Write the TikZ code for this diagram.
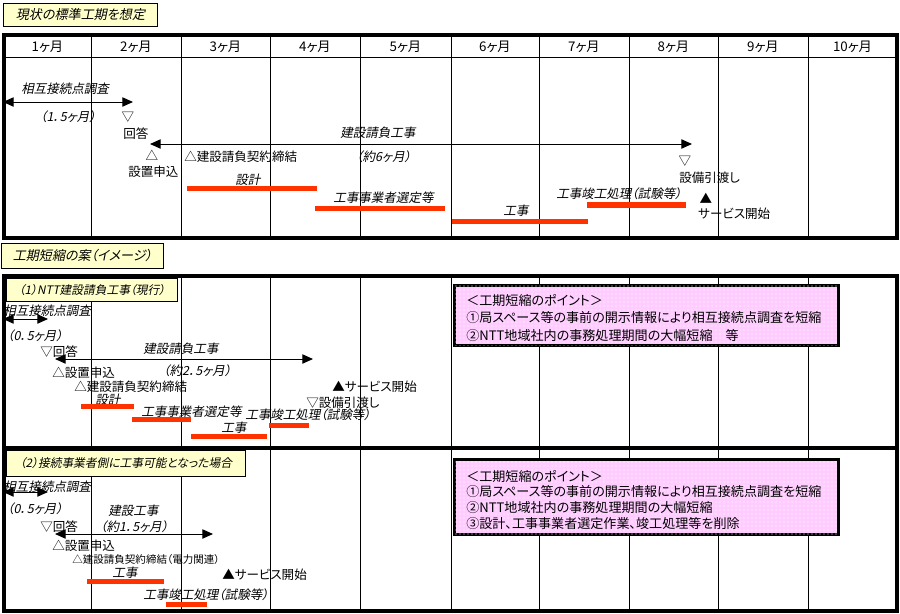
\documentclass[tikz,border=0pt]{standalone}
\usepackage{fontspec}
\setmainfont{Noto Sans CJK JP}[RawFeature=+palt]
\newfontfamily\jpslant{Noto Sans CJK JP}[RawFeature=+palt,FakeSlant=0.2]
\usetikzlibrary{arrows.meta,patterns}
\definecolor{hdryellow}{HTML}{FFFFCC}
\definecolor{barred}{HTML}{FF3300}
\definecolor{ptpink}{HTML}{FFCCFF}

\begin{document}
\begin{tikzpicture}[
  x=0.75pt, y=-0.75pt,
  font=\fontsize{9.4}{11}\selectfont,
  hdrbox/.style={draw=black, line width=0.75pt, fill=hdryellow, inner sep=0pt, anchor=north west,
                 font=\fontsize{9.8}{11}\selectfont\jpslant},
  subbox/.style={hdrbox, font=\fontsize{8.8}{10}\selectfont\jpslant},
  montxt/.style={font=\fontsize{10}{11}\selectfont},
  txt/.style={anchor=west, inner sep=0pt},
  itxt/.style={txt, font=\fontsize{9.4}{11}\selectfont\jpslant},
  smalltxt/.style={txt, font=\fontsize{7.9}{9}\selectfont},
  pttxt/.style={txt, font=\fontsize{9.8}{11}\selectfont},
  sym/.style={inner sep=0pt},
  panelframe/.style={line width=2.4pt},
  gridline/.style={line width=0.75pt},
  spanarr/.style={{Triangle[length=8pt,width=7pt]}-{Triangle[length=8pt,width=7pt]}, line width=0.75pt},
  ptbox/.style={draw=black, line width=1.9pt, fill=ptpink, anchor=north west, inner sep=0pt,
                postaction={pattern=dots, pattern color=white}},
]
\useasboundingbox (0,0) rectangle (900,614);

% =========================== TOP: current standard schedule ===========================
\node[hdrbox, minimum width=115.5pt, minimum height=17.25pt] (hdrnow) at (3,3) {現状の標準工期を想定};

\draw[panelframe] (4,35) rectangle (897,238);
\draw[gridline] (4,57) -- (897,57);
\foreach \x in {91,181,270,360,451,539,629,718,808}{ \draw[gridline] (\x,35) -- (\x,238); }
\foreach \m/\xl/\xr in {1/4/91,2/91/181,3/181/270,4/270/360,5/360/451,6/451/539,7/539/629,8/629/718,9/718/808,10/808/897}{
  \node[montxt] (mon\m) at ({(\xl+\xr)/2},47) {\m{}ヶ月};
}

% survey of interconnection point
\node[itxt] (asv) at (21,89) {相互接続点調査};
\coordinate (asvL) at (3,102); \coordinate (asvR) at (133,102);
\draw[spanarr] (asvL) -- (asvR);
\node[itxt] (asvlen) at (40,117) {（1．5ヶ月）};
\node[sym] (aansmk) at (128,117) {▽};
\node[txt] (aans) at (123,134) {回答};

% construction contract work
\coordinate (acwL) at (150,144); \coordinate (acwR) at (692,144);
\draw[spanarr] (acwL) -- (acwR);
\node[itxt] (acw) at (340,133) {建設請負工事};
\node[itxt] (acwlen) at (356,157) {（約6ヶ月）};
\node[sym] (aappmk) at (152,155) {△};
\node[txt] (aapp) at (128,172) {設置申込};
\node[txt] (acon) at (184,157) {△建設請負契約締結};

% task bars
\node[itxt] (ades) at (235,180) {設計};
\fill[barred] (187,185.5) rectangle (317,191);
\node[itxt] (asel) at (333,198) {工事事業者選定等};
\fill[barred] (315,205.5) rectangle (445,211);
\node[itxt] (acons) at (503,211) {工事};
\fill[barred] (452,218.5) rectangle (588,224);
\node[itxt] (adone) at (556,194) {工事竣工処理（試験等）};
\fill[barred] (587,202) rectangle (686,207.5);

% handover / service start
\node[sym] (ahndmk) at (685,161) {▽};
\node[txt] (ahnd) at (679,178) {設備引渡し};
\node[sym] (asrvmk) at (706,198) {▲};
\node[txt] (asrv) at (698,214) {サービス開始};

% =========================== BOTTOM: shortening plans ===========================
\node[hdrbox, minimum width=121.5pt, minimum height=18.75pt] (hdrplan) at (1,243) {工期短縮の案（イメージ）};

\draw[panelframe] (4,276) rectangle (897,611);
\draw[panelframe] (4,448) -- (897,448);
\foreach \x in {91,181,270,360,451,539,629,718,808}{ \draw[gridline] (\x,276) -- (\x,611); }

% ---- (1) NTT construction contract (current) ----
\node[subbox, minimum width=128.25pt, minimum height=17.25pt] (hdrntt) at (6,278) {（1）NTT建設請負工事（現行）};

\node[itxt] (bsv) at (3,311) {相互接続点調査};
\coordinate (bsvL) at (3,319); \coordinate (bsvR) at (48,319);
\draw[spanarr] (bsvL) -- (bsvR);
\node[itxt] (bsvlen) at (7,336) {（0．5ヶ月）};
\node[txt] (bans) at (40,352) {▽回答};
\coordinate (bcwL) at (55,359); \coordinate (bcwR) at (313,359);
\draw[spanarr] (bcwL) -- (bcwR);
\node[itxt] (bcw) at (143,349) {建設請負工事};
\node[itxt] (bcwlen) at (163,371) {（約2．5ヶ月）};
\node[txt] (bapp) at (52,373) {△設置申込};
\node[txt] (bcon) at (74,387) {△建設請負契約締結};
\node[txt] (bsrv) at (332,387) {▲サービス開始};
\node[txt] (bhnd) at (306,403) {▽設備引渡し};

\node[itxt] (bdes) at (95,400) {設計};
\fill[barred] (81,404) rectangle (134,409);
\node[itxt] (bsel) at (141,412) {工事事業者選定等};
\fill[barred] (132,417) rectangle (191,422);
\node[itxt] (bdone) at (245,415) {工事竣工処理（試験等）};
\fill[barred] (269,423) rectangle (309,428);
\node[itxt] (bcons) at (221,428) {工事};
\fill[barred] (191,434) rectangle (267,439);

\node[ptbox, minimum width=288pt, minimum height=45pt] (pt1) at (453,284) {};
\foreach \t/\y in {＜工期短縮のポイント＞/300, ①局スペース等の事前の開示情報により相互接続点調査を短縮/318, ②NTT地域社内の事務処理期間の大幅短縮　等/336}{
  \node[pttxt] at (466,\y) {\t};
}

% ---- (2) work possible on the carrier side ----
\node[subbox, minimum width=179.25pt, minimum height=19.5pt] (hdrcarr) at (6,450) {（2）接続事業者側に工事可能となった場合};

\node[itxt] (csv) at (3,487) {相互接続点調査};
\coordinate (csvL) at (3,492); \coordinate (csvR) at (48,492);
\draw[spanarr] (csvL) -- (csvR);
\node[itxt] (csvlen) at (7,509) {（0．5ヶ月）};
\node[itxt] (ccw) at (108,511) {建設工事};
\node[itxt] (ccwlen) at (100,527) {（約1．5ヶ月）};
\node[txt] (cans) at (40,527) {▽回答};
\coordinate (ccwL) at (55,534); \coordinate (ccwR) at (213,534);
\draw[spanarr] (ccwL) -- (ccwR);
\node[txt] (capp) at (52,546) {△設置申込};
\node[smalltxt] (ccon) at (72,559) {△建設請負契約締結（電力関連）};
\node[txt] (csrv) at (222,575) {▲サービス開始};

\node[itxt] (ccons) at (112,573) {工事};
\fill[barred] (87,579) rectangle (164,584);
\node[itxt] (cdone) at (143,595) {工事竣工処理（試験等）};
\fill[barred] (166,602) rectangle (207,607);

\node[ptbox, minimum width=288pt, minimum height=56.25pt] (pt2) at (453,458) {};
\foreach \t/\y in {＜工期短縮のポイント＞/476, ①局スペース等の事前の開示情報により相互接続点調査を短縮/492, ②NTT地域社内の事務処理期間の大幅短縮/508, ③設計、工事事業者選定作業、竣工処理等を削除/524}{
  \node[pttxt] at (466,\y) {\t};
}

\end{tikzpicture}
\end{document}
